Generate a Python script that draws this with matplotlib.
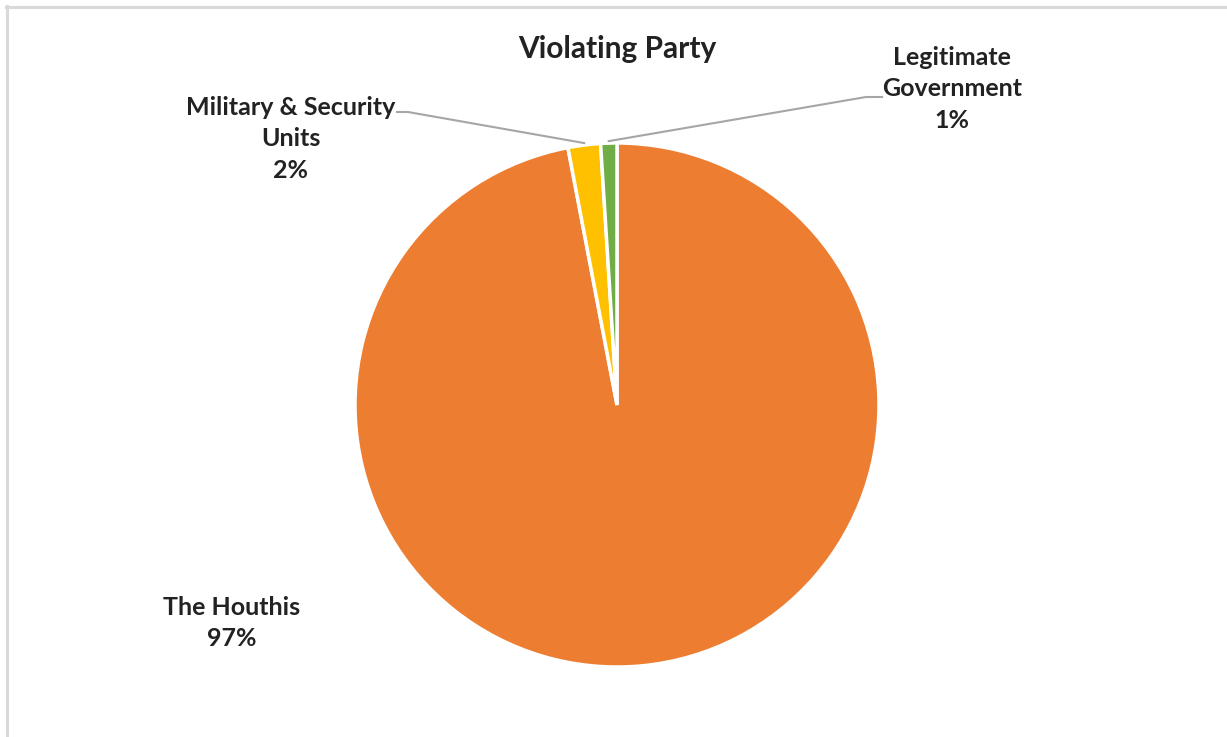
import numpy as np
import matplotlib
matplotlib.use("Agg")
import matplotlib.pyplot as plt
from matplotlib.lines import Line2D

# Data
parties = ["The Houthis", "Military & Security\nUnits", "Legitimate\nGovernment"]
shares = [97, 2, 1]
colors = ["#ED7D31", "#FFC000", "#70AD47"]

W, H = 1227, 737
plt.rcParams['font.family'] = ['Lato', 'DejaVu Sans']
TXT = '#222222'

fig = plt.figure(figsize=(W / 100, H / 100), dpi=100)

# pie geometry in pixels (top-left origin)
cx, cy, r = 617, 405, 262
ax = fig.add_axes([(cx - r) / W, (H - cy - r) / H, 2 * r / W, 2 * r / H])
wedges, _ = ax.pie(shares, colors=colors, startangle=90, counterclock=False,
                   radius=1, wedgeprops=dict(edgecolor='white', linewidth=2.5))
ax.set_xlim(-1, 1)
ax.set_ylim(-1, 1)
ax.set_aspect('equal')
ax.axis('off')


def fx(px):
    return px / W


def fy(py):
    return 1 - py / H


# frame lines (top and left)
fig.add_artist(Line2D([fx(6), 1], [fy(6.5), fy(6.5)], color='#D9D9D9', lw=2.2))
fig.add_artist(Line2D([fx(6.5), fx(6.5)], [fy(6), 0], color='#D9D9D9', lw=2.2))

fig.text(fx(617), fy(49), "Violating Party", ha='center', va='center',
         fontsize=21.5, fontweight='bold', color=TXT)

labels = [f"{p}\n{s}%" for p, s in zip(parties, shares)]
label_pos = [(232, 623), (291, 139), (952, 89)]
for lab, (px, py) in zip(labels, label_pos):
    fig.text(fx(px), fy(py), lab, ha='center', va='center', fontsize=18,
             fontweight='bold', color=TXT, linespacing=1.45)

# leader lines for the two small slices
leaders = {1: [(397, 112), (408, 112)], 2: [(882, 97), (866, 97)]}
for i, pts in leaders.items():
    w = wedges[i]
    mid = np.deg2rad((w.theta1 + w.theta2) / 2)
    tip = ax.transData.transform((1.0 * np.cos(mid), 1.0 * np.sin(mid)))
    xs = [fx(p[0]) for p in pts] + [tip[0] / W]
    ys = [fy(p[1]) for p in pts] + [tip[1] / H + 2 / H]
    fig.add_artist(Line2D(xs, ys, color='#A6A6A6', lw=1.5))

fig.savefig("out.png", dpi=100, facecolor='white')
